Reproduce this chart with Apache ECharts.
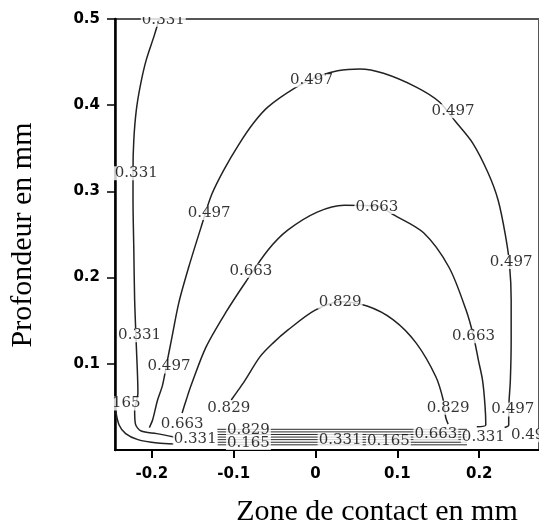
<!DOCTYPE html>
<html><head><meta charset="utf-8">
<script src="https://cdn.jsdelivr.net/npm/echarts@6/dist/echarts.min.js"></script>
<style>html,body{margin:0;padding:0;background:#fff}#c{width:539px;height:532px}</style>
</head><body><div id="c"></div>
<script>
// Tick values
const xTicks = [-0.2, -0.1, 0, 0.1, 0.2];
const yTicks = [0.1, 0.2, 0.3, 0.4, 0.5];

// Contour lines: [x (mm), depth (mm)]
const contour331 = [[-0.191,0.500],[-0.197,0.481],[-0.207,0.452],[-0.214,0.423],[-0.219,0.394],[-0.222,0.360],[-0.223,0.325],[-0.223,0.290],[-0.222,0.232],[-0.221,0.174],[-0.219,0.122],[-0.217,0.066],[-0.221,0.046],[-0.220,0.030],[-0.213,0.022],[-0.194,0.019],[-0.173,0.015]];
const contour497 = [[-0.203,0.026],[-0.199,0.035],[-0.193,0.058],[-0.187,0.075],[-0.181,0.104],[-0.176,0.128],[-0.167,0.171],[-0.155,0.212],[-0.140,0.258],[-0.127,0.296],[-0.112,0.325],[-0.094,0.354],[-0.076,0.379],[-0.058,0.398],[-0.025,0.420],[0.002,0.433],[0.027,0.440],[0.054,0.442],[0.083,0.437],[0.123,0.421],[0.151,0.404],[0.171,0.381],[0.192,0.356],[0.211,0.321],[0.223,0.290],[0.232,0.249],[0.237,0.215],[0.239,0.174],[0.239,0.128],[0.238,0.081],[0.236,0.046],[0.236,0.029],[0.231,0.026]];
const contour663 = [[-0.163,0.043],[-0.158,0.058],[-0.152,0.075],[-0.134,0.119],[-0.110,0.159],[-0.086,0.194],[-0.058,0.232],[-0.034,0.255],[0.002,0.276],[0.035,0.284],[0.075,0.283],[0.095,0.273],[0.132,0.252],[0.163,0.212],[0.184,0.162],[0.193,0.132],[0.199,0.104],[0.204,0.081],[0.207,0.052],[0.208,0.029],[0.197,0.027]];
const contour829 = [[-0.103,0.058],[-0.094,0.070],[-0.086,0.081],[-0.068,0.108],[-0.052,0.124],[-0.034,0.139],[-0.001,0.162],[0.030,0.172],[0.063,0.167],[0.095,0.151],[0.123,0.124],[0.147,0.085],[0.156,0.058],[0.159,0.038],[0.162,0.030]];
const contour165 = [[-0.244,0.045],[-0.240,0.029],[-0.232,0.019],[-0.217,0.012],[-0.193,0.008],[-0.173,0.007]];
// Tightly packed contours along the contact surface
const bandDepths = [0.006, 0.009, 0.012, 0.015, 0.018, 0.021, 0.024];
const bandSpan = [-0.12, 0.185];

// Contour labels: [x, depth, text]
const contourLabels = [
  [-0.186,0.499,'0.331'],[-0.219,0.321,'0.331'],[-0.215,0.133,'0.331'],[-0.147,0.013,'0.331'],[0.030,0.012,'0.331'],[0.205,0.015,'0.331'],
  [-0.005,0.429,'0.497'],[0.168,0.393,'0.497'],[-0.130,0.275,'0.497'],[0.239,0.218,'0.497'],[-0.179,0.097,'0.497'],[0.241,0.047,'0.497'],[0.265,0.017,'0.497'],
  [0.075,0.282,'0.663'],[-0.079,0.208,'0.663'],[0.193,0.132,'0.663'],[-0.163,0.030,'0.663'],[0.147,0.019,'0.663'],
  [0.030,0.172,'0.829'],[-0.106,0.049,'0.829'],[0.162,0.049,'0.829'],[-0.082,0.023,'0.829'],
  [-0.240,0.054,'0.165'],[-0.082,0.008,'0.165'],[0.089,0.010,'0.165']
];

const lineStyle = {color:'#222', width:1.5};
function contourSeries(name, data){
  return {name, type:'line', data, showSymbol:false, symbol:'none', smooth:0.3, lineStyle, z:2, silent:true, animation:false};
}
const series = [
  contourSeries('c331', contour331),
  contourSeries('c497', contour497),
  contourSeries('c663', contour663),
  contourSeries('c829', contour829),
  contourSeries('c165', contour165)
];
bandDepths.forEach((d,i)=>{
  series.push({name:'band'+i, type:'line', data:[[bandSpan[0],d],[bandSpan[1],d]], showSymbol:false, symbol:'none', lineStyle:{color:'#2a2a2a', width:1}, z:2, silent:true, animation:false});
});
series.push({
  name:'labels', type:'scatter', data:contourLabels, symbolSize:1,
  itemStyle:{color:'rgba(0,0,0,0)'}, z:5, silent:true, animation:false,
  label:{show:true, position:'inside', formatter:p=>p.data[2], color:'#000',
    fontFamily:'DejaVu Serif', fontSize:15, backgroundColor:'#fff', padding:[0,1], lineHeight:14}
});

const chart = echarts.init(document.getElementById('c'), null, {renderer:'canvas'});
chart.setOption({
  animation:false,
  backgroundColor:'#fff',
  grid:{left:115, top:19, right:-5, bottom:82, show:true, borderColor:'#555', borderWidth:2, backgroundColor:'rgba(0,0,0,0)'},
  xAxis:{type:'value', min:-0.245, max:0.273,
    axisLine:{show:true, onZero:false, lineStyle:{color:'#000', width:2}},
    axisTick:{show:true, length:8, lineStyle:{color:'#000', width:2}, customValues:xTicks},
    axisLabel:{customValues:xTicks, margin:17, color:'#000', fontFamily:'DejaVu Sans', fontSize:15, fontWeight:'bold'},
    splitLine:{show:false}},
  yAxis:{type:'value', min:0, max:0.5, interval:0.1,
    axisLine:{show:true, onZero:false, lineStyle:{color:'#000', width:2.5}},
    axisTick:{show:true, length:8, lineStyle:{color:'#000', width:1.5}, customValues:yTicks},
    axisLabel:{customValues:yTicks, margin:15, color:'#000', fontFamily:'DejaVu Sans', fontSize:15, fontWeight:'bold'},
    splitLine:{show:false}},
  graphic:[
    {type:'rect', z:100, shape:{x:114, y:0, width:425, height:17}, style:{fill:'#fff'}, silent:true},
    {type:'rect', z:100, shape:{x:88, y:394, width:25, height:18}, style:{fill:'#fff'}, silent:true},
    {type:'text', z:100, x:377, y:512, style:{text:'Zone de contact en mm', font:'30px "Liberation Serif"', fill:'#000', textAlign:'center', textVerticalAlign:'middle'}},
    {type:'text', z:100, x:23, y:235, rotation:Math.PI/2, style:{text:'Profondeur en mm', font:'30px "Liberation Serif"', fill:'#000', textAlign:'center', textVerticalAlign:'middle'}}
  ],
  series
});
</script>
</body></html>
